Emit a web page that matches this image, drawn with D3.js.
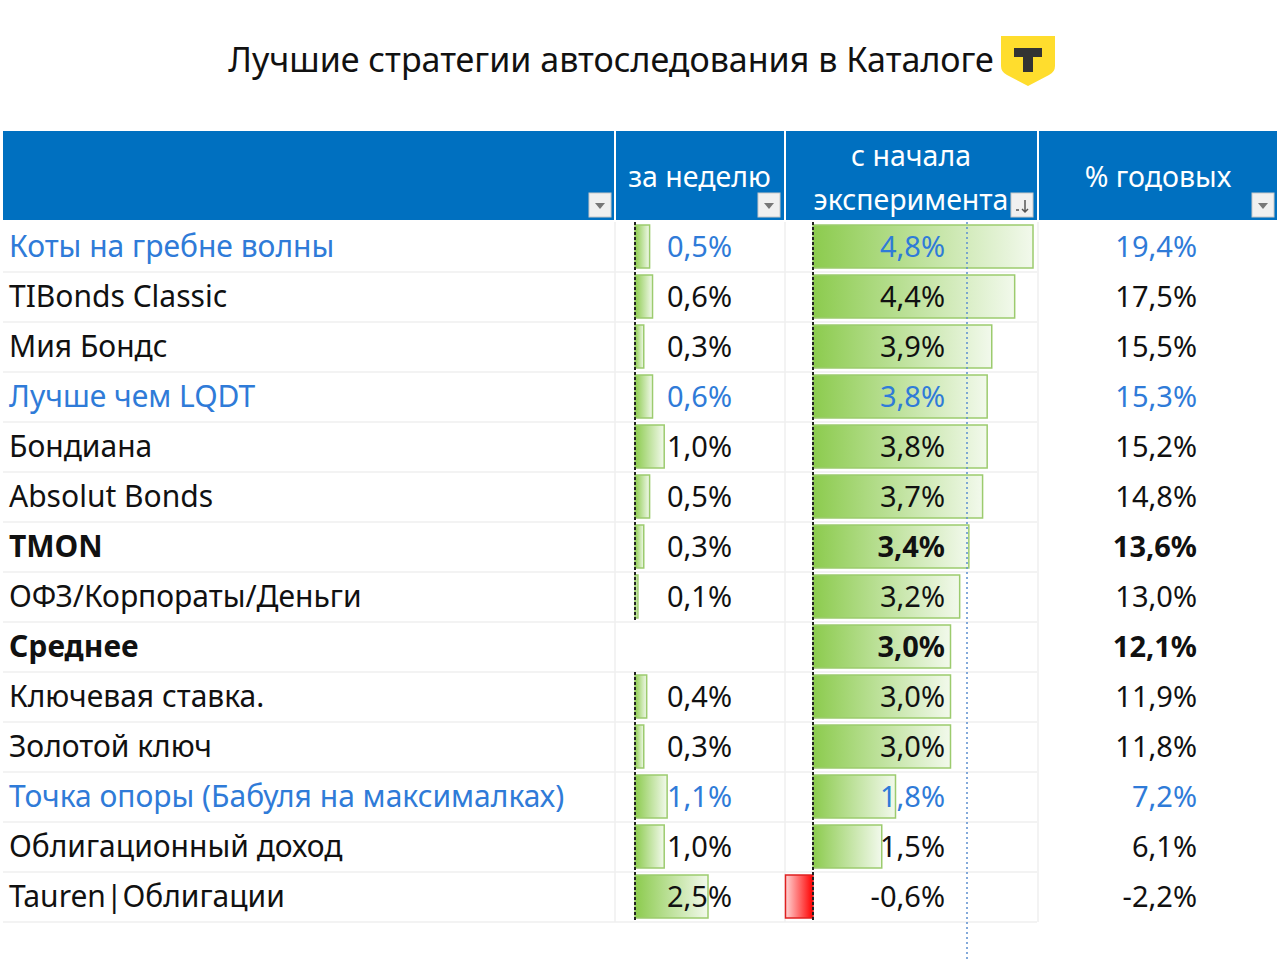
<!DOCTYPE html>
<html lang="ru">
<head>
<meta charset="UTF-8">
<title>Лучшие стратегии автоследования</title>
<script src="https://d3js.org/d3.v7.min.js"></script>
<style>
  body { margin: 0; background: #fff; }
  svg text { font-family: "Noto Sans", "Open Sans", sans-serif; }
</style>
</head>
<body>
<svg id="chart" width="1280" height="961"></svg>
<script>
// data
const names = ["Коты на гребне волны", "TIBonds Classic", "Мия Бондс", "Лучше чем LQDT", "Бондиана",
  "Absolut Bonds", "TMON", "ОФЗ/Корпораты/Деньги", "Среднее", "Ключевая ставка.", "Золотой ключ",
  "Точка опоры (Бабуля на максималках)", "Облигационный доход", "Tauren|Облигации"];
const weekly = [0.5, 0.6, 0.3, 0.6, 1.0, 0.5, 0.3, 0.1, null, 0.4, 0.3, 1.1, 1.0, 2.5];
const sinceStart = [4.8, 4.4, 3.9, 3.8, 3.8, 3.7, 3.4, 3.2, 3.0, 3.0, 3.0, 1.8, 1.5, -0.6];
const annual = [19.4, 17.5, 15.5, 15.3, 15.2, 14.8, 13.6, 13.0, 12.1, 11.9, 11.8, 7.2, 6.1, -2.2];
const linkRows = ["Коты на гребне волны", "Лучше чем LQDT", "Точка опоры (Бабуля на максималках)"];
const boldRows = ["TMON", "Среднее"];
const headers = ["", "за неделю", "с начала|эксперимента", "% годовых"];

const svg = d3.select("#chart");
const fmt = v => v.toFixed(1).replace(".", ",") + "%";

// layout
const cols = [[3, 614], [616, 783], [786, 1036], [1039, 1277]];
const headTop = 131, headBottom = 220, rowTop = 222, rowH = 50;
const y = d3.scaleBand().domain(d3.range(names.length)).range([rowTop, rowTop + rowH * names.length]);
const xWeek = d3.scaleLinear().domain([0, 2.5]).range([635, 708]);
const xStart = d3.scaleLinear().domain([0, 4.8]).range([813, 1033]);

// title + logo
svg.append("text").attr("x", 611).attr("y", 72).attr("text-anchor", "middle")
  .style("font-size", "34px").attr("fill", "#111")
  .text("Лучшие стратегии автоследования в Каталоге");
const logo = svg.append("g").attr("transform", "translate(1001,36)");
logo.append("path").attr("d", "M0,0 H54 V30 Q54,36 48,39 L27,50 L6,39 Q0,36 0,30 Z").attr("fill", "#FFDD2D");
logo.append("path").attr("d", "M13,12 H41 V21 H32 V36 H22 V21 H13 Z").attr("fill", "#333");

// defs
const defs = svg.append("defs");
const gGreen = defs.append("linearGradient").attr("id", "gGreen");
gGreen.append("stop").attr("offset", "0%").attr("stop-color", "#8CCB4E");
gGreen.append("stop").attr("offset", "100%").attr("stop-color", "#F2F9EC");
const gRed = defs.append("linearGradient").attr("id", "gRed");
gRed.append("stop").attr("offset", "0%").attr("stop-color", "#FFD4D4");
gRed.append("stop").attr("offset", "100%").attr("stop-color", "#FF0000");

// header
svg.append("rect").attr("x", 3).attr("y", headTop).attr("width", 1274).attr("height", headBottom - headTop).attr("fill", "#0070C0");
cols.slice(1).forEach(c => svg.append("line").attr("x1", c[0] - 1).attr("x2", c[0] - 1)
  .attr("y1", headTop).attr("y2", headBottom).attr("stroke", "#ffffff").attr("stroke-width", 2));
headers.forEach((h, i) => {
  const cx = (cols[i][0] + cols[i][1]) / 2;
  const lines = h ? h.split("|") : [];
  lines.forEach((t, k) => {
    const ty = lines.length === 1 ? 187 : 166 + k * 44;
    svg.append("text").attr("x", i === 2 ? 911 : cx).attr("y", ty).attr("text-anchor", "middle")
      .attr("fill", "#fff").style("font-size", "28.5px").text(t);
  });
  // filter buttons
  const bx = cols[i][1] - 25, by = 193;
  svg.append("rect").attr("x", bx).attr("y", by).attr("width", 22).attr("height", 24)
    .attr("fill", "#F0F0F0").attr("stroke", "#C8C8C8");
  if (i === 2) {
    svg.append("path").attr("d", `M${bx + 5},${by + 17} h3 M${bx + 14},${by + 7} v12 M${bx + 11},${by + 16} l3,3 l3,-3`)
      .attr("stroke", "#555").attr("fill", "none").attr("stroke-width", 1.5);
  } else {
    svg.append("path").attr("d", `M${bx + 6},${by + 10} h10 l-5,6 Z`).attr("fill", "#777");
  }
});

// grid lines
names.forEach((n, i) => {
  svg.append("line").attr("x1", 3).attr("x2", 1037).attr("y1", y(i) + rowH).attr("y2", y(i) + rowH)
    .attr("stroke", "#EFEFEF").attr("stroke-width", 1.5);
});
cols.slice(1).forEach(c => svg.append("line").attr("x1", c[0] - 1).attr("x2", c[0] - 1)
  .attr("y1", rowTop).attr("y2", y.range()[1]).attr("stroke", "#EFEFEF").attr("stroke-width", 1.5));

// weekly bars
weekly.forEach((v, i) => {
  if (v === null) return;
  svg.append("rect").attr("x", xWeek(0)).attr("y", y(i) + 3).attr("width", xWeek(v) - xWeek(0)).attr("height", rowH - 7)
    .attr("fill", "url(#gGreen)").attr("stroke", "#9CCB6E").attr("stroke-width", 1.5);
  svg.append("line").attr("x1", xWeek(0)).attr("x2", xWeek(0)).attr("y1", y(i)).attr("y2", y(i) + rowH)
    .attr("stroke", "#222").attr("stroke-width", 2).attr("stroke-dasharray", "3,2");
});

// since-start bars
sinceStart.forEach((v, i) => {
  const x0 = Math.min(xStart(0), xStart(v)), w = Math.abs(xStart(v) - xStart(0));
  svg.append("rect").attr("x", x0).attr("y", y(i) + 3).attr("width", w).attr("height", rowH - 7)
    .attr("fill", v < 0 ? "url(#gRed)" : "url(#gGreen)")
    .attr("stroke", v < 0 ? "#E02020" : "#9CCB6E").attr("stroke-width", 1.5);
});
svg.append("line").attr("x1", xStart(0)).attr("x2", xStart(0)).attr("y1", rowTop).attr("y2", y.range()[1])
  .attr("stroke", "#222").attr("stroke-width", 2).attr("stroke-dasharray", "3,2");

// blue dotted cursor line
svg.append("line").attr("x1", 967).attr("x2", 967).attr("y1", rowTop).attr("y2", 961)
  .attr("stroke", "#5B8FD0").attr("stroke-width", 1.5).attr("stroke-dasharray", "2,3");

// texts
names.forEach((n, i) => {
  const col = linkRows.includes(n) ? "#2F7BD8" : "#111";
  const bold = boldRows.includes(n) ? "bold" : "normal";
  const ty = y(i) + 35;
  svg.append("text").attr("x", 9).attr("y", ty).attr("fill", col).attr("font-weight", bold)
    .style("font-size", "30px").text(n);
  if (weekly[i] !== null)
    svg.append("text").attr("x", 732).attr("y", ty).attr("text-anchor", "end").attr("fill", col)
      .style("font-size", "29px").text(fmt(weekly[i]));
  svg.append("text").attr("x", 945).attr("y", ty).attr("text-anchor", "end").attr("fill", col)
    .attr("font-weight", bold).style("font-size", "29px").text(fmt(sinceStart[i]));
  svg.append("text").attr("x", 1197).attr("y", ty).attr("text-anchor", "end").attr("fill", col)
    .attr("font-weight", bold).style("font-size", "29px").text(fmt(annual[i]));
});
</script>
</body>
</html>
